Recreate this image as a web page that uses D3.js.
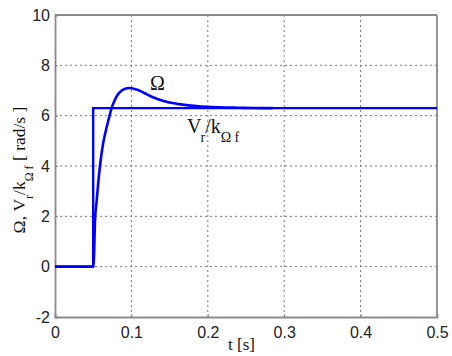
<!DOCTYPE html>
<html><head><meta charset="utf-8">
<script src="https://cdn.jsdelivr.net/npm/d3@7"></script>
<style>body{margin:0;background:#fff}svg{display:block}</style>
</head><body>
<script>
// Data
const xTicks = [0, 0.1, 0.2, 0.3, 0.4, 0.5];
const yTicks = [-2, 0, 2, 4, 6, 8, 10];
const refT = [0, 0.05, 0.05, 0.5];
const refV = [0, 0, 6.3, 6.3];
const omegaT = [0, 0.050, 0.051, 0.0524, 0.0545, 0.0565, 0.059, 0.063, 0.0665, 0.070, 0.074, 0.078, 0.082, 0.087, 0.092, 0.097, 0.100, 0.105, 0.111, 0.117, 0.124, 0.131, 0.137, 0.144, 0.150, 0.162, 0.172, 0.185, 0.199, 0.216, 0.240, 0.260, 0.285];
const omegaV = [0, 0, 0.4, 1.85, 2.6, 3.3, 4.04, 4.9, 5.4, 5.83, 6.29, 6.6, 6.83, 6.99, 7.07, 7.10, 7.09, 7.05, 6.99, 6.90, 6.79, 6.70, 6.63, 6.57, 6.52, 6.46, 6.42, 6.38, 6.35, 6.33, 6.315, 6.305, 6.30];

const W = 452, H = 356;
const L = 55, R = 437, T = 15, B = 317;
const svg = d3.select("body").append("svg").attr("width", W).attr("height", H);
const x = d3.scaleLinear().domain([0, 0.5]).range([L, R]);
const y = d3.scaleLinear().domain([-2, 10]).range([B, T]);
const grey = "#8a8a8a";

// grid
svg.append("g").selectAll("line").data(xTicks.slice(1, -1)).join("line")
  .attr("x1", d => x(d)).attr("x2", d => x(d)).attr("y1", T).attr("y2", B)
  .attr("stroke", "#777").attr("stroke-width", 1).attr("stroke-dasharray", "2,3");
svg.append("g").selectAll("line").data(yTicks.slice(1, -1)).join("line")
  .attr("x1", L).attr("x2", R).attr("y1", d => y(d)).attr("y2", d => y(d))
  .attr("stroke", "#777").attr("stroke-width", 1).attr("stroke-dasharray", "2,3");

// axes
const fmt = d => String(d);
const xAxis = svg.append("g").attr("transform", `translate(0,${B})`)
  .call(d3.axisBottom(x).tickValues(xTicks).tickSize(-3).tickPadding(10).tickFormat(fmt));
const yAxis = svg.append("g").attr("transform", `translate(${L},0)`)
  .call(d3.axisLeft(y).tickValues(yTicks).tickSize(-3).tickPadding(5).tickFormat(fmt));
[xAxis, yAxis].forEach(g => {
  g.select(".domain").attr("stroke", grey).attr("stroke-width", 1.8);
  g.selectAll(".tick line").attr("stroke", grey);
  g.selectAll(".tick text").attr("fill", "#222").style("font-family", "Liberation Sans, Arial, sans-serif").style("font-size", "16px");
});
// top and right border
svg.append("line").attr("x1", L).attr("x2", R).attr("y1", T).attr("y2", T).attr("stroke", grey).attr("stroke-width", 1.8);
svg.append("line").attr("x1", R).attr("x2", R).attr("y1", T).attr("y2", B).attr("stroke", grey).attr("stroke-width", 1.8);

// lines
const line = d3.line().x(d => x(d[0])).y(d => y(d[1]));
svg.append("path").datum(refT.map((t, i) => [t, refV[i]]))
  .attr("d", line).attr("fill", "none").attr("stroke", "#0000ff").attr("stroke-width", 2.4);
svg.append("path").datum(omegaT.map((t, i) => [t, omegaV[i]]))
  .attr("d", line.curve(d3.curveMonotoneX)).attr("fill", "none").attr("stroke", "#0000ff").attr("stroke-width", 2.6);

const serif = "Liberation Serif, Times New Roman, serif";
// annotations
svg.append("text").attr("x", 150).attr("y", 90).style("font-family", serif).style("font-size", "20px").attr("fill", "#111").text("Ω");
const vt = svg.append("text").attr("x", 187).attr("y", 133).style("font-family", serif).style("font-size", "20px").attr("fill", "#111");
vt.append("tspan").text("V");
vt.append("tspan").attr("dy", 9).attr("dx", -1).style("font-size", "14px").text("r");
vt.append("tspan").attr("dy", -9).attr("dx", 0).text("/k");
vt.append("tspan").attr("dy", 9).style("font-size", "14px").text("Ω f");

// axis labels
svg.append("text").attr("x", 228).attr("y", 350).style("font-family", serif).style("font-size", "17px").attr("fill", "#111").text("t [s]");
const yl = svg.append("text").attr("transform", "translate(25,170) rotate(-90)").attr("text-anchor", "middle")
  .style("font-family", serif).style("font-size", "17.5px").attr("fill", "#111");
yl.append("tspan").text("Ω, V");
yl.append("tspan").attr("dy", 8).style("font-size", "12px").text("r");
yl.append("tspan").attr("dy", -8).text("/k");
yl.append("tspan").attr("dy", 8).style("font-size", "12px").text("Ω f");
yl.append("tspan").attr("dy", -8).text(" [ rad/s ]");
</script>
</body></html>
